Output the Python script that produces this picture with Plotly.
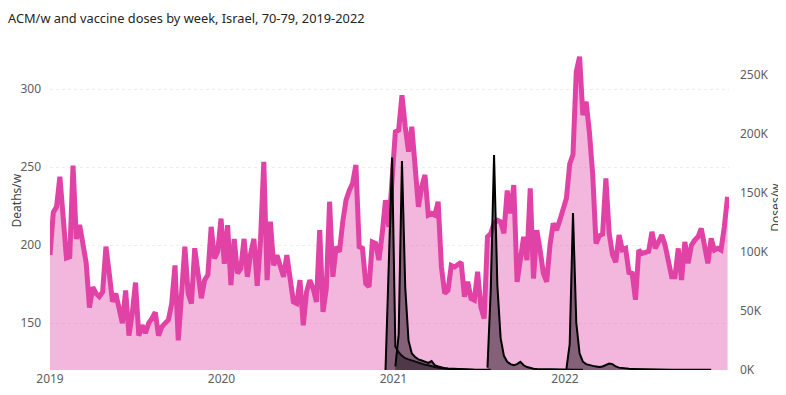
import datetime as dt
import plotly.graph_objects as go

# ---------------- data ----------------
start_week = dt.date(2019, 1, 1)

deaths = [
    193.6, 221, 224.5, 243.8, 218, 191.7, 192.5, 251, 204, 213,
    201, 188.5, 160, 173, 169, 167, 170, 199, 182, 163.7,
    169, 160, 150, 171, 142, 156, 176, 142, 148.7, 143.6,
    150, 153, 157, 142, 147.6, 150, 152, 162.6, 187, 139,
    167, 199, 169, 162.6, 198, 182, 166, 177.6, 181, 211.7,
    191.5, 196, 217, 188, 212.8, 174.4, 204, 182, 185, 204,
    179.7, 194.7, 204, 174, 203, 253.4, 177.6, 215, 187, 193.6,
    185, 179.7, 193.6, 175.4, 163.7, 162.6, 177.6, 148.7, 170, 177.6,
    172.2, 163.7, 209.6, 157.3, 172.2, 227.8, 179.7, 199, 195.7, 215,
    228.8, 235, 239.6, 251.3, 199, 197.9, 175.4, 173.3, 202, 201,
    190.4, 207.5, 228.8, 211.7, 245, 272.6, 273.7, 296, 275.8, 259.8,
    275.8, 248, 224.6, 237.4, 244.9, 219.2, 220.3, 219.2, 227.8, 186,
    169, 171, 187, 186, 188, 189, 166.9, 176.5, 165.8, 164.7,
    182.9, 160.4, 153, 205.3, 207.5, 213.9, 216, 215, 207.5, 235,
    220.3, 238.5, 176.5, 192.5, 205.3, 190.4, 236.3, 178.6, 209.6, 196.8,
    181.9, 176.5, 200, 213.9, 209.6, 216, 224.6, 230, 252, 258,
    311, 320.7, 283.3, 291.9, 272, 245, 201, 206, 207, 242.8,
    207.5, 194, 189, 206.4, 197, 197.9, 182.5, 181.9, 165, 196.8,
    194.7, 195.7, 196, 208.5, 198, 202, 206.4, 200, 191.5, 179.7,
    179.7, 197.9, 177.6, 202, 188.3, 200, 203.2, 205.3, 210.7, 200,
    188.3, 204.3, 196.8, 197.9, 196.8, 211.7, 231,
]

# vaccine doses per week (first week of each series given by its start date)
dose1_start = dt.date(2020, 12, 15)
dose1 = [0, 85000, 180000, 20000, 15000, 12000, 10000, 9000, 8000, 7000,
         6000, 5000, 4500, 4000, 3000, 2500, 2000, 1500, 1200, 1000,
         800, 600, 500, 400, 300, 300, 200, 200]
dose2_start = dt.date(2021, 1, 5)
dose2 = [3000, 30000, 177000, 70000, 25000, 14000, 11000, 9000, 8000, 7000,
         6000, 7500, 4000, 3000, 2000, 1500, 1200, 1000, 800, 600,
         500, 400, 300, 300, 200, 200, 200, 200, 200, 200]
dose3_start = dt.date(2021, 7, 20)
dose3 = [2000, 68000, 182000, 72000, 27000, 12000, 7000, 5000, 4000, 5000,
         7000, 4000, 2500, 1500, 1000, 800, 700, 600, 500, 500,
         400, 400, 300, 300, 300, 300, 300, 300, 300, 300]
dose4_start = dt.date(2022, 1, 4)
dose4 = [1000, 22000, 133000, 40000, 14000, 7000, 5000, 4000, 3500, 3000,
         2500, 3000, 4000, 5500, 5000, 3000, 2000, 1500, 1200, 1000,
         900, 800, 700, 600, 500, 500, 400, 400, 400, 400,
         300, 300, 300, 300, 300, 300, 300, 300, 300, 300,
         300, 300, 300, 300, 300]

left_ticks = [150, 200, 250, 300]
right_ticks = [0, 50000, 100000, 150000, 200000, 250000]
right_tick_text = ["0K", "50K", "100K", "150K", "200K", "250K"]

title = "ACM/w and vaccine doses by week, Israel, 70-79, 2019-2022"
left_title = "Deaths/w"
right_title = "Doses/w"


def weeks(first, n):
    return [first + dt.timedelta(days=7 * i) for i in range(n)]


death_dates = weeks(start_week, len(deaths))

LINE = "rgb(224,66,166)"
FILL = "rgba(226,72,168,0.40)"
DOSE_FILL = "rgba(30,20,28,0.52)"
FONT = "Noto Sans"

fig = go.Figure()
fig.add_trace(go.Scatter(
    x=death_dates, y=deaths, mode="lines", fill="tozeroy",
    line=dict(color=LINE, width=5), fillcolor=FILL, yaxis="y",
    showlegend=False))

for first, vals in [(dose1_start, dose1), (dose2_start, dose2),
                    (dose3_start, dose3), (dose4_start, dose4)]:
    fig.add_trace(go.Scatter(
        x=weeks(first, len(vals)), y=vals, mode="lines", fill="tozeroy",
        line=dict(color="black", width=2), fillcolor=DOSE_FILL,
        yaxis="y2", showlegend=False))

fig.update_layout(
    width=786, height=395,
    margin=dict(l=42, r=65, t=42, b=33, autoexpand=False),
    paper_bgcolor="white", plot_bgcolor="white",
    font=dict(family=FONT, size=12, color="#605E5C"),
    title=dict(text=title, x=0.0, xanchor="left", y=0.985, yanchor="top",
               font=dict(family=FONT, size=12.8, color="#252423")),
    xaxis=dict(type="date", range=[death_dates[0], death_dates[-1] + dt.timedelta(days=3)],
               dtick="M12", tickformat="%Y", tick0="2019-01-01",
               showgrid=False, zeroline=False, showline=False, automargin=False,
               ticks="", tickfont=dict(size=12, color="#605E5C")),
    yaxis=dict(range=[120, 325], tickvals=left_ticks, automargin=False,
               showgrid=True, gridcolor="#eeeeee", griddash="dot",
               zeroline=False, ticks="", ticklabelstandoff=8),
    yaxis2=dict(range=[0, 271000], overlaying="y", side="right", automargin=False,
                tickvals=right_ticks, ticktext=right_tick_text,
                showgrid=False, zeroline=False, ticks="", ticklabelstandoff=10),
    annotations=[
        dict(text=left_title, xref="paper", yref="paper", x=-0.050, y=0.53,
             textangle=-90, showarrow=False, xanchor="center", yanchor="middle",
             font=dict(size=12, color="#444444")),
        dict(text=right_title, xref="paper", yref="paper", x=1.069, y=0.51,
             textangle=-90, showarrow=False, xanchor="center", yanchor="middle",
             font=dict(size=12, color="#444444")),
    ],
)

fig.write_html("out.html")
